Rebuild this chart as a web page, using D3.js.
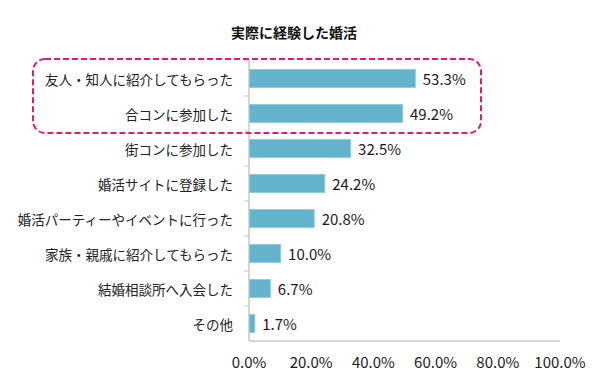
<!DOCTYPE html>
<html>
<head>
<meta charset="utf-8">
<script src="https://cdn.jsdelivr.net/npm/d3@7"></script>
<style>
  body { margin: 0; background: #fff; }
  text { font-family: "Noto Sans CJK JP", "Noto Sans", sans-serif; }
</style>
</head>
<body>
<div id="chart"></div>
<script>
// Data
const title = "実際に経験した婚活";
const categories = [
    "友人・知人に紹介してもらった",
    "合コンに参加した",
    "街コンに参加した",
    "婚活サイトに登録した",
    "婚活パーティーやイベントに行った",
    "家族・親戚に紹介してもらった",
    "結婚相談所へ入会した",
    "その他"
];
const values = [53.3, 49.2, 32.5, 24.2, 20.8, 10.0, 6.7, 1.7];
const tickValues = [0, 20, 40, 60, 80, 100];
const highlighted = ["友人・知人に紹介してもらった", "合コンに参加した"];

const width = 600, height = 390;
const margin = { top: 61, right: 40, bottom: 49, left: 249 };

const svg = d3.select("#chart").append("svg")
    .attr("width", width)
    .attr("height", height);

svg.append("text")
    .attr("x", 294)
    .attr("y", 32)
    .attr("text-anchor", "middle")
    .attr("dominant-baseline", "central")
    .style("font-size", "14px")
    .style("font-weight", "bold")
    .style("fill", "#111")
    .text(title);

const x = d3.scaleLinear()
    .domain([0, 100])
    .range([margin.left, width - margin.right]);

const y = d3.scaleBand()
    .domain(categories)
    .range([margin.top, height - margin.bottom])
    .paddingInner(0.49)
    .paddingOuter(0.245);

// y axis line + ticks at band boundaries
const yAxisG = svg.append("g");
yAxisG.append("line")
    .attr("x1", x(0)).attr("x2", x(0))
    .attr("y1", margin.top - 1).attr("y2", height - margin.bottom)
    .attr("stroke", "#c8c8c8").attr("stroke-width", 1.5);

const step = y.step();
const boundaries = d3.range(categories.length + 1).map(i => margin.top + i * step);
yAxisG.selectAll(".tick")
    .data(boundaries.slice(0, -1))
    .enter().append("line")
    .attr("x1", x(0) - 5).attr("x2", x(0))
    .attr("y1", d => d).attr("y2", d => d)
    .attr("stroke", "#c8c8c8");

// x axis line
svg.append("line")
    .attr("x1", x(0)).attr("x2", x(100))
    .attr("y1", height - margin.bottom).attr("y2", height - margin.bottom)
    .attr("stroke", "#c8c8c8").attr("stroke-width", 1.5);

// x tick labels
svg.append("g")
    .selectAll("text")
    .data(tickValues)
    .enter().append("text")
    .attr("x", d => x(d))
    .attr("y", height - margin.bottom + 20)
    .attr("text-anchor", "middle")
    .attr("dominant-baseline", "central")
    .style("font-size", "15px")
    .style("fill", "#1a1a1a")
    .text(d => d.toFixed(1) + "%");

// bars
svg.append("g")
    .selectAll("rect")
    .data(values)
    .enter().append("rect")
    .attr("x", x(0) + 0.5)
    .attr("y", (d, i) => y(categories[i]))
    .attr("width", d => x(d) - x(0))
    .attr("height", y.bandwidth())
    .attr("fill", "#62b3cb")
    .attr("stroke", "#8fcadb")
    .attr("stroke-width", 1);

// value labels
svg.append("g")
    .selectAll("text")
    .data(values)
    .enter().append("text")
    .attr("x", d => x(d) + 8)
    .attr("y", (d, i) => y(categories[i]) + y.bandwidth() / 2)
    .attr("dominant-baseline", "central")
    .style("font-size", "15px")
    .style("fill", "#1a1a1a")
    .text(d => d.toFixed(1) + "%");

// category labels
svg.append("g")
    .selectAll("text")
    .data(categories)
    .enter().append("text")
    .attr("x", x(0) - 16)
    .attr("y", d => y(d) + y.bandwidth() / 2)
    .attr("text-anchor", "end")
    .attr("dominant-baseline", "central")
    .style("font-size", "13.5px")
    .style("fill", "#222")
    .text(d => d);

// dashed highlight box round the top two answers
const hiTop = y(highlighted[0]) - y.step() * y.paddingOuter() - 2;
const hiBottom = y(highlighted[highlighted.length - 1]) + y.bandwidth() + y.step() * y.paddingInner() / 2 + 2;
svg.append("rect")
    .attr("x", 33)
    .attr("y", hiTop)
    .attr("width", 481 - 33)
    .attr("height", hiBottom - hiTop)
    .attr("rx", 12)
    .attr("fill", "none")
    .attr("stroke", "#e8186f")
    .attr("stroke-width", 2)
    .attr("stroke-dasharray", "6,3");
</script>
</body>
</html>
